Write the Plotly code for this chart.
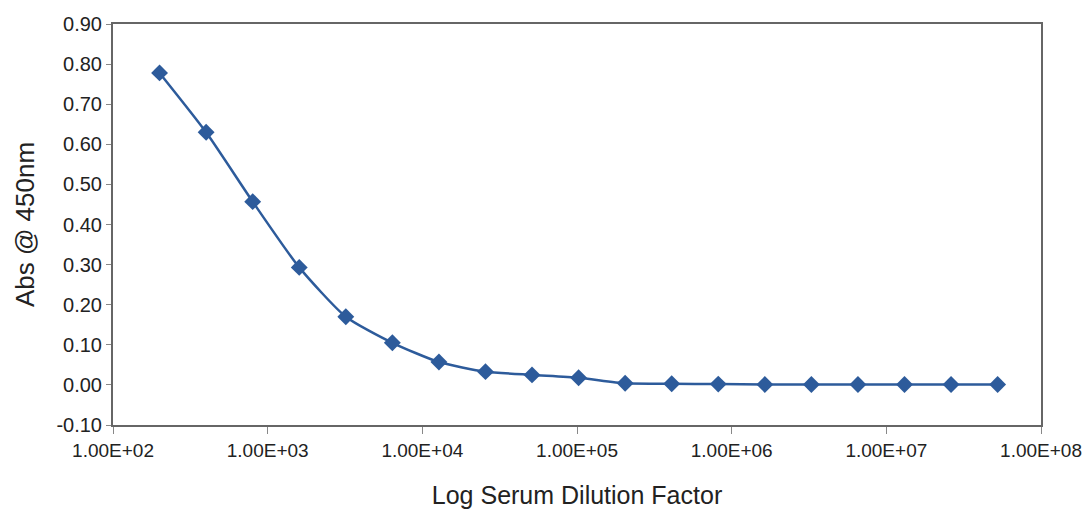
import plotly.graph_objects as go

dilution = [200 * 2 ** i for i in range(19)]
absorbance = [0.778, 0.630, 0.457, 0.293, 0.170, 0.105, 0.057, 0.033, 0.025, 0.018,
              0.004, 0.003, 0.002, 0.001, 0.001, 0.001, 0.001, 0.001, 0.001]
x_tick_vals = [1e2, 1e3, 1e4, 1e5, 1e6, 1e7, 1e8]
x_tick_text = ["1.00E+02", "1.00E+03", "1.00E+04", "1.00E+05", "1.00E+06", "1.00E+07", "1.00E+08"]
y_tick_vals = [-0.1, 0.0, 0.1, 0.2, 0.3, 0.4, 0.5, 0.6, 0.7, 0.8, 0.9]
y_tick_text = ["-0.10", "0.00", "0.10", "0.20", "0.30", "0.40", "0.50", "0.60", "0.70", "0.80", "0.90"]

color = "#2D5B9B"

fig = go.Figure()
fig.add_trace(go.Scatter(
    x=dilution, y=absorbance, mode="lines+markers",
    line=dict(color=color, width=2.5, shape="spline", smoothing=0.6),
    marker=dict(symbol="diamond", size=13, color=color),
    showlegend=False,
))

font = "Liberation Sans, Arial, sans-serif"
fig.update_layout(
    width=1090, height=509,
    margin=dict(l=113, r=49, t=24, b=84),
    paper_bgcolor="white", plot_bgcolor="white",
    font=dict(family=font, color="#222222", size=20),
    xaxis=dict(
        type="log", range=[2, 8], automargin=False,
        tickvals=x_tick_vals, ticktext=x_tick_text,
        ticks="outside", ticklen=7, tickcolor="#888888",
        showgrid=False, zeroline=False,
        showline=True, linecolor="#666666", linewidth=2, mirror=True,
        tickfont=dict(size=19, family=font),
        title=dict(text="Log Serum Dilution Factor", font=dict(size=25, family=font), standoff=28),
    ),
    yaxis=dict(
        range=[-0.1, 0.9], automargin=False,
        tickvals=y_tick_vals, ticktext=y_tick_text,
        ticks="outside", ticklen=5, tickcolor="#888888",
        showgrid=False, zeroline=False,
        showline=True, linecolor="#666666", linewidth=2, mirror=True,
        tickfont=dict(size=20, family=font),
        title=dict(text="Abs @ 450nm", font=dict(size=26, family=font), standoff=14),
    ),
)

fig.write_html("out.html")
